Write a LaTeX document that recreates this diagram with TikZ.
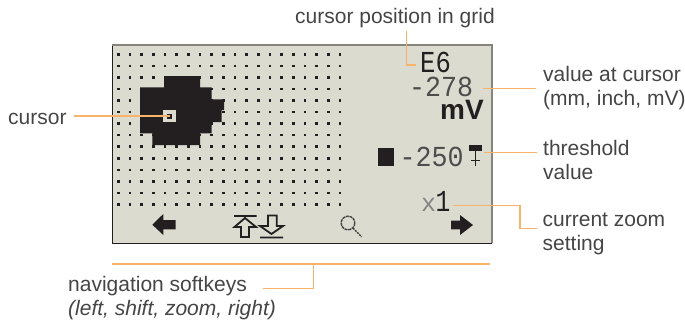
\documentclass[tikz,border=0pt]{standalone}
\usepackage{fontspec}
\usepackage{graphicx}
\setmainfont{Liberation Sans}
\newfontfamily\lcdfont{Liberation Mono}
\definecolor{lcdback}{HTML}{DBDBD0}
\definecolor{lcdrim}{HTML}{85857C}
\definecolor{lcdink}{HTML}{231F20}
\definecolor{leader}{HTML}{F8B36B}
\definecolor{labelink}{HTML}{454545}
\tikzset{
  labeltext/.style={font=\fontsize{21}{24}\selectfont,text=labelink,anchor=base west,align=left,inner sep=0pt},
  lcdtext/.style={font=\lcdfont\fontsize{29}{29}\selectfont,text=lcdink,anchor=base west,inner sep=0pt},
  leaderline/.style={draw=leader,line width=1.3pt},
  softkey/.style={fill=lcdink,draw=none}
}
\begin{document}
\begin{tikzpicture}[x=1pt,y=-1pt,line cap=butt,line join=miter]
\useasboundingbox (0,0) rectangle (685,321);
% display
\fill[lcdback] (112.5,45) rectangle (492,243);
\draw[lcdink,line width=1pt] (112.5,45) -- (112.5,243) -- (492,243);
\draw[lcdrim,line width=2pt] (112,45) -- (492,45) -- (492,243);
% grid dots
\foreach \col in {0,...,19} {
  \foreach \row in {0,...,13} {
    \fill[lcdink] ({118.2+11.67*\col-1.3},{54.3+11.55*\row-1.3}) rectangle ++(2.6,2.6);
  }
}
% measured area
\fill[lcdink] (164,76) -- (200,76) -- (200,87.3) -- (211.7,87.3) -- (211.7,99.3) -- (224,99.3)
  -- (224,110) -- (221.7,110) -- (221.7,122) -- (211.7,122) -- (211.7,133.3) -- (200,133.3)
  -- (200,145) -- (152.3,145) -- (152.3,133.3) -- (140,133.3) -- (140,87.3) -- (164,87.3) -- cycle;
\fill[lcdback] (163.3,110.3) rectangle (175.7,122.3);
\fill[lcdink] (167.3,114) rectangle (171.8,118.6);
% readouts
\node[lcdtext] (gridpos) at (420,72.7) {\scalebox{0.88}[1.05]{E6}};
\node[lcdtext,text=lcdink!80] (curvalue) at (409,96) {\scalebox{0.92}[1]{-278}};
\node[font=\bfseries\fontsize{28}{28}\selectfont,text=lcdink,anchor=base west,inner sep=0pt] (curunit) at (440,119.3) {mV};
\fill[lcdink] (377.7,148.3) rectangle (394.3,165.7);
\node[lcdtext,text=lcdink!80] (threshvalue) at (399.5,166) {\scalebox{0.92}[1]{-250}};
\fill[lcdink] (469,145) rectangle (481.7,151);
\draw[lcdink,line width=1.3pt] (475.3,151) -- (475.3,166) (470.5,160.5) -- (480,160.5);
\node[lcdtext] (zoomfactor) at (421,211.7) {{\fontsize{25}{25}\selectfont\color{lcdink!55}x}\hspace{-0.5pt}\scalebox{0.85}[1.05]{1}};
% softkeys
\fill[softkey] (175.7,220) -- (163.3,220) -- (163.3,214) -- (152.3,224.7) -- (163.3,235) -- (163.3,229.3) -- (175.7,229.3) -- cycle;
\fill[softkey] (451,220.7) -- (460,220.7) -- (460,215) -- (473,225) -- (460,235) -- (460,229.3) -- (451,229.3) -- cycle;
\draw[lcdink,line width=1.8pt] (234,216) -- (256.7,216)
  (245,218) -- (234.5,227) -- (241,227) -- (241,237) -- (249,237) -- (249,227) -- (256,227) -- cycle;
\draw[lcdink,line width=1.8pt] (260,237.5) -- (283,237.5)
  (268,215.5) -- (276.7,215.5) -- (276.7,226) -- (283,226) -- (271.5,234) -- (260,226) -- (268,226) -- cycle;
\draw[lcdink!85,line width=1.4pt,dash pattern=on 3pt off 0.7pt] (348,223) circle (6.8);
\draw[lcdink!85,line width=1.4pt,dash pattern=on 2pt off 1pt] (353,228) -- (361.7,237);
% labels
\node[labeltext] (cursorlabel) at (8,124) {cursor};
\node[labeltext] (gridlabel) at (295,23.3) {cursor position in grid};
\node[labeltext] (valuelabel) at (543,105) {value at cursor\\(mm, inch, mV)};
\node[labeltext] (threshlabel) at (543,179.5) {threshold\\value};
\node[labeltext] (zoomlabel) at (542.5,250) {current zoom\\setting};
\node[labeltext] (softkeylabel) at (68,315) {navigation softkeys\\{\itshape (left, shift, zoom, right)}};
% leaders
\coordinate (cursormark) at (169.5,116);
\coordinate (cursorfoot) at (74,116);
\coordinate (gridtop) at (406.7,31);
\coordinate (gridfoot) at (416,65);
\coordinate (valuefrom) at (535.7,88.7);
\coordinate (valueto) at (482.7,88.7);
\coordinate (threshfrom) at (537,152.7);
\coordinate (threshto) at (484,152.7);
\coordinate (zoomfrom) at (537,228.3);
\coordinate (zoomto) at (452.7,205.3);
\coordinate (keybarleft) at (112,264);
\coordinate (keybarright) at (490,264);
\coordinate (keybarfoot) at (263,288.7);
\coordinate (keybarmid) at (313.7,264);
\draw[leaderline] (cursorfoot) -- (cursormark);
\draw[leaderline] (gridtop) |- (gridfoot);
\draw[leaderline] (valuefrom) -- (valueto);
\draw[leaderline] (threshfrom) -- (threshto);
\draw[leaderline] (zoomfrom) -| (520,205.3) -- (zoomto);
\draw[leaderline] (keybarleft) -- (keybarright);
\draw[leaderline] (keybarmid) |- (keybarfoot);
\end{tikzpicture}
\end{document}
